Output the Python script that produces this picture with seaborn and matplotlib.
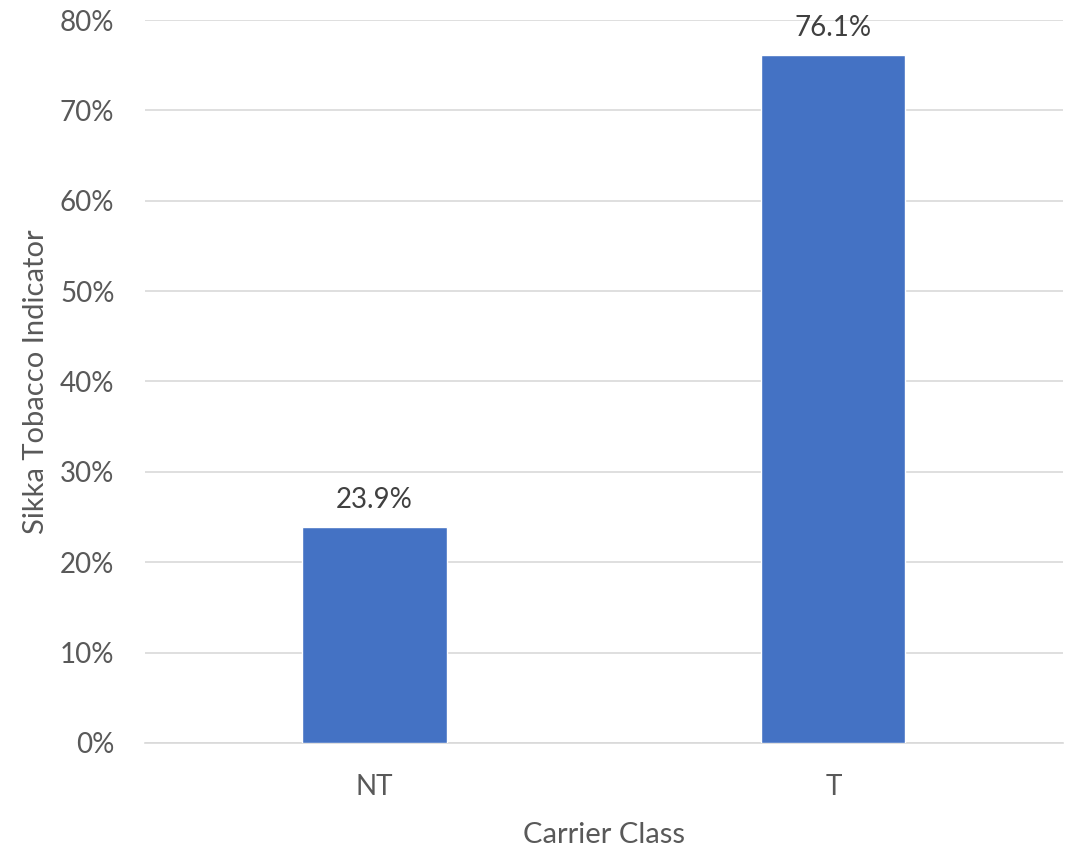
import matplotlib
matplotlib.use("Agg")
import matplotlib.pyplot as plt
import seaborn as sns
import pandas as pd
from matplotlib.ticker import PercentFormatter

categories = ["NT", "T"]
values = [23.9, 76.1]
value_labels = ["23.9%", "76.1%"]

sns.set_style("white")
plt.rcParams['font.family'] = ['Lato', 'DejaVu Sans']

df = pd.DataFrame({"Carrier Class": categories, "value": values})

fig = plt.figure(figsize=(10.71, 8.49), dpi=100)
ax = fig.add_axes([0.1354, 0.1249, 0.857, 0.8515])

sns.barplot(data=df, x="Carrier Class", y="value", color="#4472C4",
            width=0.314, saturation=1, ax=ax, zorder=3)

ax.set_ylim(0, 80)
ax.set_xlim(-0.5, 1.5)
ax.set_yticks(range(0, 81, 10))
ax.yaxis.set_major_formatter(PercentFormatter(decimals=0))
ax.grid(axis="y", color="#D9D9D9", linewidth=1.2, zorder=0)
ax.set_axisbelow(True)
for s in ["top", "right", "left"]:
    ax.spines[s].set_visible(False)
ax.spines["bottom"].set_color("#D9D9D9")
ax.spines["bottom"].set_linewidth(1.2)
ax.tick_params(axis="both", length=0, labelsize=20, colors="#595959")
ax.tick_params(axis="x", pad=22)
ax.tick_params(axis="y", pad=22)

for i, (v, lab) in enumerate(zip(values, value_labels)):
    ax.annotate(lab, (i, v), xytext=(0, 10), textcoords="offset points",
                ha="center", va="bottom", fontsize=20, color="#404040")

ax.set_xlabel("Carrier Class", fontsize=21, color="#595959", labelpad=16)
ax.set_ylabel("Sikka Tobacco Indicator", fontsize=21, color="#595959", labelpad=8)

fig.savefig("out.png", dpi=100)
